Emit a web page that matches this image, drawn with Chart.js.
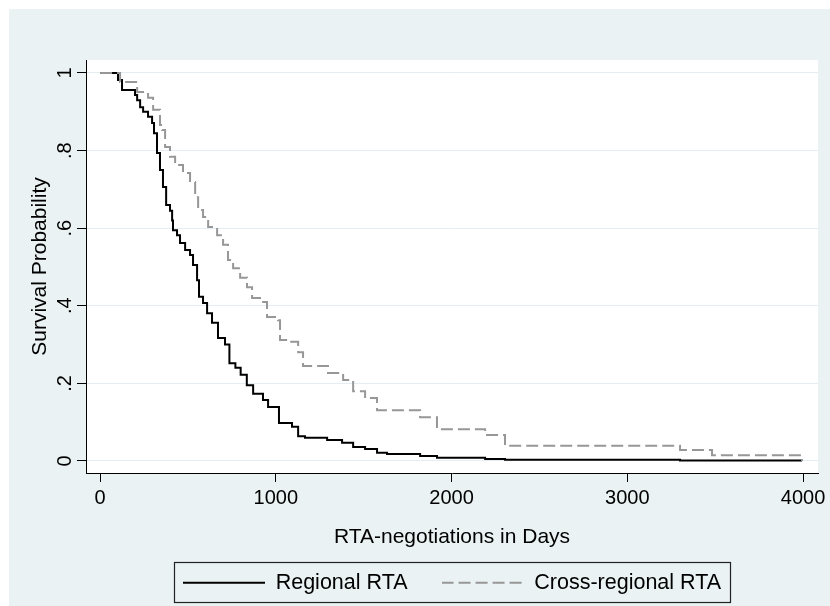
<!DOCTYPE html>
<html><head><meta charset="utf-8">
<script src="https://cdn.jsdelivr.net/npm/chart.js@4/dist/chart.umd.min.js"></script>
<style>html,body{margin:0;padding:0;background:#fff;}canvas{display:block;}</style>
</head><body>
<canvas id="c" width="830" height="606"></canvas>
<script>
// ---- data (Kaplan-Meier step estimates) ----
const seriesNames = ['Regional RTA', 'Cross-regional RTA'];
const regionalDays = [0,102,125,199,211,228,245,273,296,307,324,341,358,376,398,410,415,438,455,484,512,529,552,563,586,609,637,671,711,736,770,800,835,871,927,956,1018,1092,1127,1166,1292,1377,1440,1508,1576,1633,1821,1917,2191,2304,3300,3994];
const regionalSurv = [1,0.982,0.956,0.943,0.93,0.912,0.9,0.887,0.871,0.845,0.794,0.75,0.706,0.66,0.645,0.62,0.595,0.582,0.562,0.544,0.531,0.505,0.466,0.423,0.407,0.381,0.356,0.317,0.3,0.252,0.24,0.222,0.195,0.173,0.157,0.139,0.098,0.088,0.064,0.06,0.054,0.047,0.036,0.031,0.021,0.018,0.013,0.008,0.005,0.003,0.001,0];
const crossDays = [0,114,211,273,302,341,353,370,398,427,472,512,541,558,586,615,666,700,728,757,797,836,865,922,950,1013,1024,1081,1127,1155,1297,1383,1440,1508,1576,1821,1917,2191,2304,3300,3482,3994];
const crossSurv = [1,0.977,0.951,0.936,0.905,0.866,0.853,0.809,0.784,0.763,0.742,0.719,0.68,0.647,0.629,0.603,0.582,0.557,0.518,0.497,0.472,0.448,0.42,0.41,0.371,0.363,0.312,0.307,0.28,0.245,0.227,0.209,0.18,0.162,0.131,0.113,0.082,0.067,0.039,0.028,0.015,0];
const xTickValues = [0, 1000, 2000, 3000, 4000];
const xTickLabels = ['0', '1000', '2000', '3000', '4000'];
const yTickValues = [0, 0.2, 0.4, 0.6, 0.8, 1];
const yTickLabels = ['0', '.2', '.4', '.6', '.8', '1'];
const xTitle = 'RTA-negotiations in Days';
const yTitle = 'Survival Probability';

const FAMILY = "'Liberation Sans', Arial, Helvetica, sans-serif";
const SAMPLE_W = 82;

function legendSample(color, dash) {
  const c = document.createElement('canvas');
  c.width = SAMPLE_W; c.height = 4;
  const g = c.getContext('2d');
  g.strokeStyle = color; g.lineWidth = 2;
  g.setLineDash(dash);
  g.beginPath(); g.moveTo(0, 2); g.lineTo(SAMPLE_W, 2); g.stroke();
  return c;
}

const bgPlugin = {
  id: 'bg',
  beforeDraw(chart) {
    const {ctx, chartArea: a} = chart;
    ctx.save();
    ctx.fillStyle = '#ffffff';
    ctx.fillRect(0, 0, chart.width, chart.height);
    ctx.fillStyle = '#eaf2f3';
    ctx.fillRect(9, 9, chart.width - 9, chart.height - 9);
    ctx.fillStyle = '#ffffff';
    ctx.fillRect(a.left, a.top, a.right - a.left, a.bottom - a.top);
    ctx.restore();
  },
  afterDraw(chart) {
    const hb = chart.legend && chart.legend.legendHitBoxes;
    if (!hb || !hb.length) return;
    const ctx = chart.ctx;
    const l = Math.min(...hb.map(h => h.left)) - 9;
    const r = Math.max(...hb.map(h => h.left + h.width)) + 9;
    const t = hb[0].top - 10;
    const b = hb[0].top + hb[0].height + 8;
    ctx.save();
    ctx.strokeStyle = '#222';
    ctx.lineWidth = 1.2;
    ctx.strokeRect(Math.round(l) + 0.5, Math.round(t) + 0.5, Math.round(r - l), Math.round(b - t));
    ctx.restore();
  }
};

new Chart(document.getElementById('c'), {
  type: 'line',
  data: {
    datasets: [
      {
        label: seriesNames[0],
        data: regionalDays.map((d, i) => ({x: d, y: regionalSurv[i]})),
        borderColor: '#000000',
        borderWidth: 2,
        stepped: true,
        pointRadius: 0,
        pointStyle: legendSample('#000000', []),
        fill: false,
        order: 1
      },
      {
        label: seriesNames[1],
        data: crossDays.map((d, i) => ({x: d, y: crossSurv[i]})),
        borderColor: '#979797',
        borderWidth: 2,
        borderDash: [12, 5],
        stepped: true,
        pointRadius: 0,
        pointStyle: legendSample('#979797', [12, 5]),
        fill: false,
        order: 0
      }
    ]
  },
  options: {
    responsive: false,
    animation: false,
    layout: {padding: {top: 60, right: 12, bottom: 2.5, left: 0}},
    scales: {
      x: {
        type: 'linear', min: -80, max: 4085,
        afterBuildTicks: s => { s.ticks = xTickValues.map(v => ({value: v})); },
        afterFit: s => { s.height = 65; s.paddingLeft = 0; s.paddingRight = 0; },
        grid: {drawOnChartArea: false, tickLength: 9, tickColor: '#000', tickWidth: 1},
        border: {color: '#000', width: 1},
        ticks: {callback: (v, i) => xTickLabels[i], maxRotation: 0, minRotation: 0, autoSkip: false, padding: 4, color: '#000', font: {family: FAMILY, size: 20}},
        title: {display: true, text: xTitle, color: '#000', font: {family: FAMILY, size: 21}, padding: {top: 0, bottom: -11.6}}
      },
      y: {
        type: 'linear', min: -0.031, max: 1.0335,
        afterBuildTicks: s => { s.ticks = yTickValues.map(v => ({value: v})); },
        afterFit: s => { s.width = 86; s.paddingTop = 0; s.paddingBottom = 0; },
        grid: {color: '#e2eef1', lineWidth: 1, tickLength: 9, tickColor: '#000', tickWidth: 1},
        border: {color: '#000', width: 1},
        ticks: {callback: (v, i) => yTickLabels[i], minRotation: 90, maxRotation: 90, crossAlign: 'center', padding: 3, color: '#000', font: {family: FAMILY, size: 20}},
        title: {display: true, text: yTitle, color: '#000', font: {family: FAMILY, size: 21}, padding: {top: 28, bottom: 0}}
      }
    },
    plugins: {
      tooltip: {enabled: false},
      legend: {
        position: 'bottom',
        fullSize: false,
        labels: {
          usePointStyle: true,
          pointStyleWidth: SAMPLE_W,
          padding: 34,
          color: '#000',
          font: {family: FAMILY, size: 21.5},
          sort: (a, b) => a.datasetIndex - b.datasetIndex
        }
      }
    }
  },
  plugins: [bgPlugin]
});
</script>
</body></html>
